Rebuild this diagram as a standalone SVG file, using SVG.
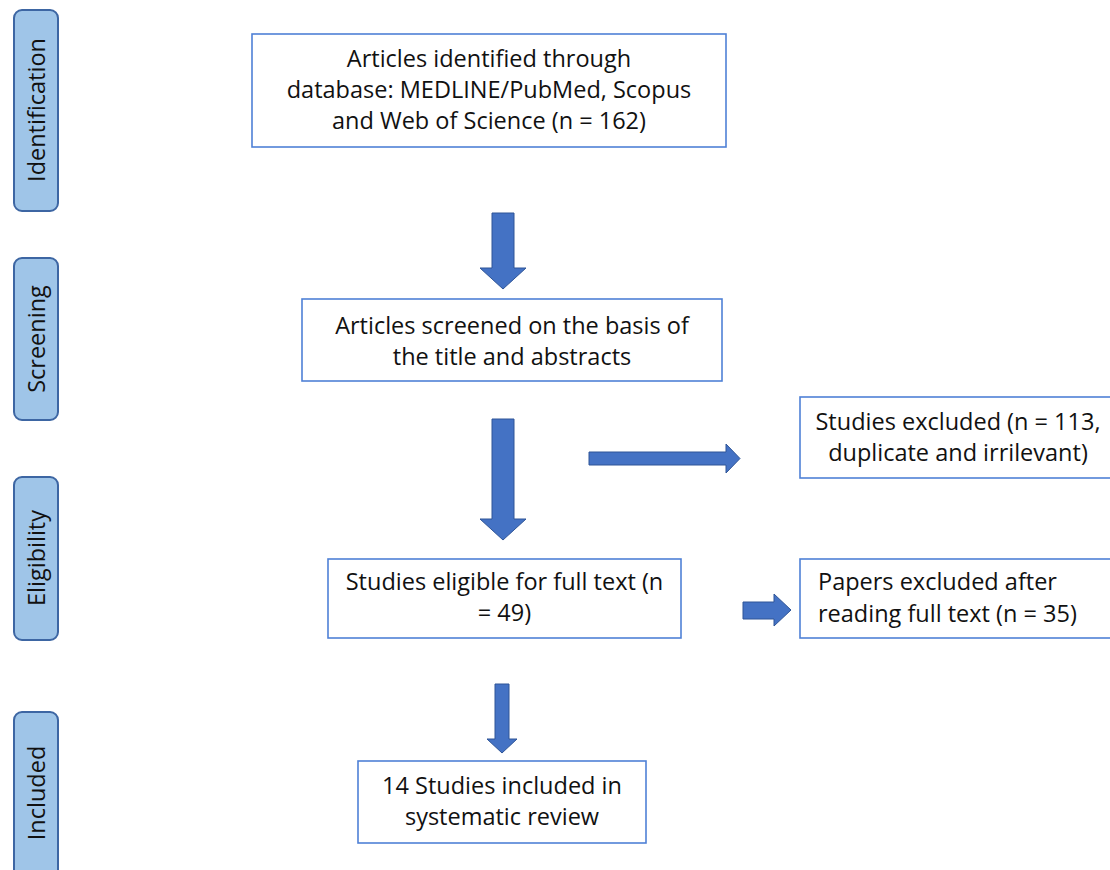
<svg xmlns="http://www.w3.org/2000/svg" width="1110" height="870" viewBox="0 0 1110 870">
<style>
.phase{fill:#9fc5e8;stroke:#3d66a3;stroke-width:2}
.box{fill:#ffffff;stroke:#4f81d6;stroke-width:1.6}
.t{font-family:"Open Sans","Noto Sans",sans-serif;font-size:23.5px;fill:#111111}
.c{text-anchor:middle}
.arr{fill:#4472c4;stroke:#2f5597;stroke-width:1}
</style>
<rect width="1110" height="870" fill="#ffffff"/>
<g id="phase-identification"><rect class="phase" x="14" y="10" width="44" height="201" rx="8"/><text class="t c" transform="translate(45,110) rotate(-90)">Identification</text></g>
<g id="phase-screening"><rect class="phase" x="14" y="258" width="44" height="162" rx="8"/><text class="t c" transform="translate(45,339) rotate(-90)">Screening</text></g>
<g id="phase-eligibility"><rect class="phase" x="14" y="477" width="44" height="163" rx="8"/><text class="t c" transform="translate(45,558) rotate(-90)">Eligibility</text></g>
<g id="phase-included"><rect class="phase" x="14" y="712" width="44" height="170" rx="8"/><text class="t c" transform="translate(45,793) rotate(-90)">Included</text></g>
<g id="identified"><rect class="box" x="252" y="34" width="474" height="113"/>
<text class="t c" x="489" y="67">Articles identified through</text>
<text class="t c" x="489" y="98">database: MEDLINE/PubMed, Scopus</text>
<text class="t c" x="489" y="129">and Web of Science (n = 162)</text></g>
<g id="screened"><rect class="box" x="302" y="299" width="420" height="82"/>
<text class="t c" x="512" y="334">Articles screened on the basis of</text>
<text class="t c" x="512" y="365">the title and abstracts</text></g>
<g id="excluded"><rect class="box" x="800" y="397" width="320" height="81"/>
<text class="t c" x="958" y="430">Studies excluded (n = 113,</text>
<text class="t c" x="958" y="461">duplicate and irrilevant)</text></g>
<g id="eligible"><rect class="box" x="328" y="559" width="353" height="79"/>
<text class="t c" x="504.5" y="590">Studies eligible for full text (n</text>
<text class="t c" x="504.5" y="621">= 49)</text></g>
<g id="papers-excluded"><rect class="box" x="800" y="559" width="320" height="79"/>
<text class="t" x="818" y="590">Papers excluded after</text>
<text class="t" x="818" y="622">reading full text (n = 35)</text></g>
<g id="included"><rect class="box" x="358" y="761" width="288" height="82"/>
<text class="t c" x="502" y="794">14 Studies included in</text>
<text class="t c" x="502" y="825">systematic review</text></g>
<g id="connectors">
<polygon class="arr" points="492,213 514,213 514,268 526,268 503,289 480,268 492,268"/>
<polygon class="arr" points="492,419 514,419 514,519 526,519 503,540 480,519 492,519"/>
<polygon class="arr" points="589,452 726,452 726,444 740,458.5 726,473 726,465 589,465"/>
<polygon class="arr" points="743,602 774,602 774,594 791,610 774,626 774,619 743,619"/>
<polygon class="arr" points="495,684 509,684 509,739 517,739 502,753 487,739 495,739"/>
</g>
</svg>
